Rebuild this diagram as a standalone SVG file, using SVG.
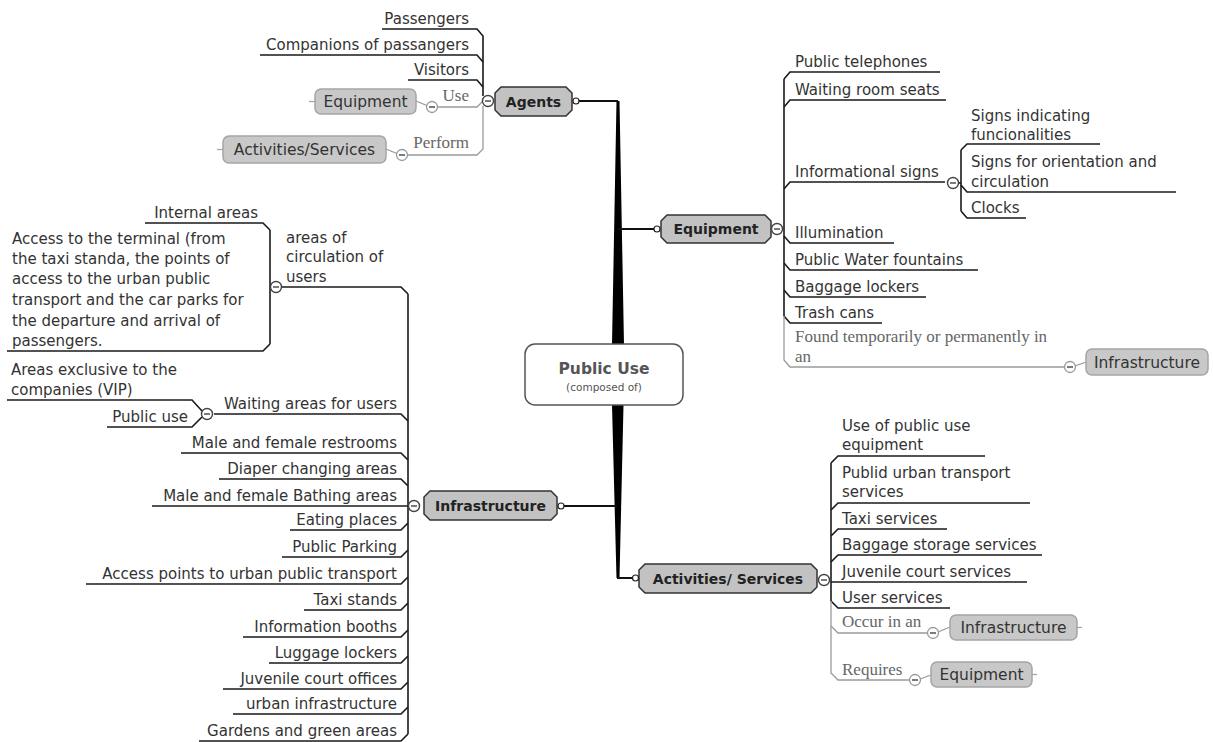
<svg xmlns="http://www.w3.org/2000/svg" width="1213" height="742" viewBox="0 0 1213 742">
  <style>
    .bg { fill: #ffffff; }
    .leaf { font-family: "DejaVu Sans", "Liberation Sans", sans-serif; font-size: 15px; fill: #333333; }
    .end { text-anchor: end; }
    .mid { text-anchor: middle; }
    .topic { fill: #c2c2c2; stroke: #333333; stroke-width: 1.5; }
    .topic-text { font-family: "DejaVu Sans", "Liberation Sans", sans-serif; font-size: 14px; font-weight: bold; fill: #222222; text-anchor: middle; }
    .ref { fill: #c8c8c8; stroke: #a5a5a5; stroke-width: 1.5; }
    .ref-text { font-family: "DejaVu Sans", "Liberation Sans", sans-serif; font-size: 15.5px; fill: #333333; text-anchor: middle; }
    .rel { font-family: "Liberation Serif", "Times New Roman", serif; font-size: 17px; fill: #666666; }
    .ln { fill: none; stroke: #1a1a1a; stroke-width: 1.6; }
    .gl { fill: none; stroke: #9a9a9a; stroke-width: 1.3; }
    .br { fill: none; stroke: #111111; stroke-width: 2; }
    .tick { stroke: #a5a5a5; stroke-width: 1.3; }
    .fold { fill: #ffffff; stroke: #444444; stroke-width: 1.4; }
    .fold-g { fill: #ffffff; stroke: #9a9a9a; stroke-width: 1.3; }
    .minus { stroke: #333333; stroke-width: 1.3; }
    .dot { fill: #ffffff; stroke: #222222; stroke-width: 1.2; }
  </style>
  <defs>
    <g id="fold">
      <circle r="5.5" class="fold"/>
      <line x1="-3" y1="0" x2="3" y2="0" class="minus"/>
    </g>
    <g id="fold-g">
      <circle r="5.5" class="fold-g"/>
      <line x1="-3" y1="0" x2="3" y2="0" class="minus"/>
    </g>
  </defs>

  <rect class="bg" x="0" y="0" width="1213" height="742"/>

  <!-- connectors -->
  <g id="connectors">
    <!-- main trunk, tapering away from the central topic -->
    <path d="M616.5,101 L619.5,101 L624,345 L612,345 Z" fill="#000000"/>
    <path d="M612,405 L623.5,405 L619.5,578 L616.5,578 Z" fill="#000000"/>
    <path class="br" d="M579,101 H618"/>
    <path class="br" d="M618,229 H654"/>
    <path class="br" d="M564,506 H617"/>
    <path class="br" d="M617,578 H632"/>

    <!-- Agents branch -->
    <path class="ln" d="M382,29 H477 L483,36 V96"/>
    <path class="ln" d="M260,55 H477 L483,62"/>
    <path class="ln" d="M408,80 H477 L483,87"/>
    <path class="gl" d="M437,107 H477 L483,101"/>
    <path class="gl" d="M407,155 H477 L483,149 V106"/>
    <path class="gl" d="M416,101 L428,106"/>
    <path class="gl" d="M386,149 L398,154"/>

    <!-- Equipment branch -->
    <path class="ln" d="M784,79 V316"/>
    <path class="ln" d="M784,79 L790,72 H940"/>
    <path class="ln" d="M784,107 L790,100 H946"/>
    <path class="ln" d="M784,189 L790,182 H945"/>
    <path class="ln" d="M784,236 L790,243 H894"/>
    <path class="ln" d="M784,263 L790,270 H978"/>
    <path class="ln" d="M784,290 L790,297 H926"/>
    <path class="ln" d="M784,316 L790,323 H882"/>
    <path class="gl" d="M784,316 V360 L790,367 H1064"/>
    <path class="gl" d="M1075,366 L1086,362"/>
    <!-- Informational signs -->
    <path class="ln" d="M958,183 H961"/>
    <path class="ln" d="M961,150 V211"/>
    <path class="ln" d="M961,150 L967,144 H1100"/>
    <path class="ln" d="M961,185 L967,192 H1176"/>
    <path class="ln" d="M961,211 L967,218 H1026"/>

    <!-- Infrastructure branch -->
    <path class="ln" d="M408,294 V734"/>
    <path class="ln" d="M281,287 H401 L408,294"/>
    <path class="ln" d="M214,414 H401 L408,421"/>
    <path class="ln" d="M181,453 H401 L408,460"/>
    <path class="ln" d="M219,479 H401 L408,486"/>
    <path class="ln" d="M152,506 H409"/>
    <path class="ln" d="M290,530 H401 L408,523"/>
    <path class="ln" d="M282,557 H401 L408,550"/>
    <path class="ln" d="M86,584 H401 L408,577"/>
    <path class="ln" d="M304,610 H401 L408,603"/>
    <path class="ln" d="M243,637 H401 L408,630"/>
    <path class="ln" d="M269,663 H401 L408,656"/>
    <path class="ln" d="M223,689 H401 L408,682"/>
    <path class="ln" d="M233,714 H401 L408,707"/>
    <path class="ln" d="M199,741 H401 L408,734"/>
    <!-- areas of circulation of users -->
    <path class="ln" d="M270,230 V344"/>
    <path class="ln" d="M145,223 H263 L270,230"/>
    <path class="ln" d="M7,351 H263 L270,344"/>
    <!-- waiting areas -->
    <path class="ln" d="M7,400 H192 L202,411"/>
    <path class="ln" d="M107,427 H192 L202,417"/>

    <!-- Activities/ Services branch -->
    <path class="ln" d="M831,463 V601"/>
    <path class="ln" d="M831,463 L838,456 H985"/>
    <path class="ln" d="M831,510 L838,503 H1030"/>
    <path class="ln" d="M831,536 L838,529 H947"/>
    <path class="ln" d="M831,562 L838,555 H1042"/>
    <path class="ln" d="M831,582 H1027"/>
    <path class="ln" d="M831,601 L838,608 H950"/>
    <path class="gl" d="M831,601 V626 L838,633 H928"/>
    <path class="gl" d="M831,626 V673 L838,680 H910"/>
    <path class="gl" d="M938,632 L950,627"/>
    <path class="gl" d="M920,679 L931,675"/>
  </g>

  <!-- central topic -->
  <g id="public-use">
    <rect x="525" y="344" width="158" height="61" rx="10" fill="#ffffff" stroke="#555555" stroke-width="1.5"/>
    <text x="604" y="374" font-family="DejaVu Sans, Liberation Sans, sans-serif" font-size="15.5" font-weight="bold" fill="#555555" text-anchor="middle">Public Use</text>
    <text x="604" y="391" font-family="DejaVu Sans, Liberation Sans, sans-serif" font-size="10.5" fill="#555555" text-anchor="middle">(composed of)</text>
  </g>

  <!-- Agents -->
  <g id="agents">
    <polygon class="topic" points="501,87 566,87 572,93 572,110 566,116 501,116 495,110 495,93"/>
    <text class="topic-text" x="533.5" y="106.5">Agents</text>
    <circle class="dot" cx="576" cy="101" r="3"/>
    <use href="#fold" x="488" y="101"/>
  </g>
  <g id="passengers"><text class="leaf end" x="469" y="24">Passengers</text></g>
  <g id="companions"><text class="leaf end" x="469" y="50">Companions of passangers</text></g>
  <g id="visitors"><text class="leaf end" x="469" y="75">Visitors</text></g>
  <g id="agents-use">
    <text class="rel end" x="469" y="101">Use</text>
    <use href="#fold-g" x="432" y="107"/>
    <rect class="ref" x="315" y="89" width="101" height="25" rx="6"/>
    <line class="tick" x1="309" y1="101.5" x2="315" y2="101.5"/>
    <text class="ref-text" x="365.5" y="107">Equipment</text>
  </g>
  <g id="agents-perform">
    <text class="rel end" x="469" y="148">Perform</text>
    <use href="#fold-g" x="402" y="155"/>
    <rect class="ref" x="223" y="136" width="163" height="27" rx="6"/>
    <line class="tick" x1="217" y1="149.5" x2="223" y2="149.5"/>
    <text class="ref-text" x="304.5" y="155">Activities/Services</text>
  </g>

  <!-- Equipment -->
  <g id="equipment">
    <polygon class="topic" points="667,215 765,215 771,221 771,237 765,243 667,243 661,237 661,221"/>
    <text class="topic-text" x="716" y="234">Equipment</text>
    <circle class="dot" cx="657" cy="229" r="3"/>
    <use href="#fold" x="777" y="229"/>
  </g>
  <g id="public-telephones"><text class="leaf" x="795" y="67">Public telephones</text></g>
  <g id="waiting-room-seats"><text class="leaf" x="795" y="95">Waiting room seats</text></g>
  <g id="informational-signs">
    <text class="leaf" x="795" y="177">Informational signs</text>
    <use href="#fold" x="953" y="183"/>
  </g>
  <g id="signs-functionalities"><text class="leaf" x="971" y="121">Signs indicating</text><text class="leaf" x="971" y="140">funcionalities</text></g>
  <g id="signs-orientation"><text class="leaf" x="971" y="167">Signs for orientation and</text><text class="leaf" x="971" y="187">circulation</text></g>
  <g id="clocks"><text class="leaf" x="971" y="213">Clocks</text></g>
  <g id="illumination"><text class="leaf" x="795" y="238">Illumination</text></g>
  <g id="water-fountains"><text class="leaf" x="795" y="265">Public Water fountains</text></g>
  <g id="baggage-lockers"><text class="leaf" x="795" y="292">Baggage lockers</text></g>
  <g id="trash-cans"><text class="leaf" x="795" y="318">Trash cans</text></g>
  <g id="equipment-found">
    <text class="rel" x="795" y="342">Found temporarily or permanently in</text>
    <text class="rel" x="795" y="362">an</text>
    <use href="#fold-g" x="1070" y="367"/>
    <rect class="ref" x="1086" y="349" width="122" height="26" rx="6"/>
    <text class="ref-text" x="1147" y="367.5">Infrastructure</text>
  </g>

  <!-- Infrastructure -->
  <g id="infrastructure">
    <polygon class="topic" points="430,491 551,491 557,497 557,514 551,520 430,520 424,514 424,497"/>
    <text class="topic-text" x="490.5" y="511">Infrastructure</text>
    <circle class="dot" cx="561" cy="506" r="3"/>
    <use href="#fold" x="414" y="506"/>
  </g>
  <g id="circulation-areas">
    <text class="leaf" x="286" y="243">areas of</text>
    <text class="leaf" x="286" y="262">circulation of</text>
    <text class="leaf" x="286" y="282">users</text>
    <use href="#fold" x="276" y="287"/>
  </g>
  <g id="internal-areas"><text class="leaf end" x="258" y="218">Internal areas</text></g>
  <g id="terminal-access">
    <text class="leaf" x="12" y="244">Access to the terminal (from</text>
    <text class="leaf" x="12" y="264">the taxi standa, the points of</text>
    <text class="leaf" x="12" y="284">access to the urban public</text>
    <text class="leaf" x="12" y="305">transport and the car parks for</text>
    <text class="leaf" x="12" y="326">the departure and arrival of</text>
    <text class="leaf" x="12" y="346">passengers.</text>
  </g>
  <g id="waiting-areas">
    <text class="leaf end" x="397" y="409">Waiting areas for users</text>
    <use href="#fold" x="207" y="414"/>
  </g>
  <g id="vip-areas"><text class="leaf" x="11" y="375">Areas exclusive to the</text><text class="leaf" x="11" y="395">companies (VIP)</text></g>
  <g id="public-use-areas"><text class="leaf end" x="188" y="422">Public use</text></g>
  <g id="restrooms"><text class="leaf end" x="397" y="448">Male and female restrooms</text></g>
  <g id="diaper"><text class="leaf end" x="397" y="474">Diaper changing areas</text></g>
  <g id="bathing"><text class="leaf end" x="397" y="501">Male and female Bathing areas</text></g>
  <g id="eating"><text class="leaf end" x="397" y="525">Eating places</text></g>
  <g id="parking"><text class="leaf end" x="397" y="552">Public Parking</text></g>
  <g id="transport-access"><text class="leaf end" x="397" y="579">Access points to urban public transport</text></g>
  <g id="taxi-stands"><text class="leaf end" x="397" y="605">Taxi stands</text></g>
  <g id="info-booths"><text class="leaf end" x="397" y="632">Information booths</text></g>
  <g id="luggage-lockers"><text class="leaf end" x="397" y="658">Luggage lockers</text></g>
  <g id="court-offices"><text class="leaf end" x="397" y="684">Juvenile court offices</text></g>
  <g id="urban-infrastructure"><text class="leaf end" x="397" y="709">urban infrastructure</text></g>
  <g id="gardens"><text class="leaf end" x="397" y="736">Gardens and green areas</text></g>

  <!-- Activities/ Services -->
  <g id="activities">
    <polygon class="topic" points="645,564 811,564 817,570 817,587 811,593 645,593 639,587 639,570"/>
    <text class="topic-text" x="728" y="583.5">Activities/ Services</text>
    <circle class="dot" cx="635.5" cy="578" r="3"/>
    <use href="#fold" x="824" y="580"/>
  </g>
  <g id="equipment-use"><text class="leaf" x="842" y="431">Use of public use</text><text class="leaf" x="842" y="450">equipment</text></g>
  <g id="transport-services"><text class="leaf" x="842" y="478">Publid urban transport</text><text class="leaf" x="842" y="497">services</text></g>
  <g id="taxi-services"><text class="leaf" x="842" y="524">Taxi services</text></g>
  <g id="baggage-storage"><text class="leaf" x="842" y="550">Baggage storage services</text></g>
  <g id="court-services"><text class="leaf" x="842" y="577">Juvenile court services</text></g>
  <g id="user-services"><text class="leaf" x="842" y="603">User services</text></g>
  <g id="activities-occur">
    <text class="rel" x="842" y="627">Occur in an</text>
    <use href="#fold-g" x="933" y="633"/>
    <rect class="ref" x="950" y="615" width="127" height="25" rx="6"/>
    <line class="tick" x1="1077" y1="627.5" x2="1082" y2="627.5"/>
    <text class="ref-text" x="1013.5" y="633">Infrastructure</text>
  </g>
  <g id="activities-requires">
    <text class="rel" x="842" y="675">Requires</text>
    <use href="#fold-g" x="915" y="680"/>
    <rect class="ref" x="931" y="662" width="101" height="25" rx="6"/>
    <line class="tick" x1="1032" y1="674.5" x2="1037" y2="674.5"/>
    <text class="ref-text" x="981.5" y="680">Equipment</text>
  </g>
</svg>
